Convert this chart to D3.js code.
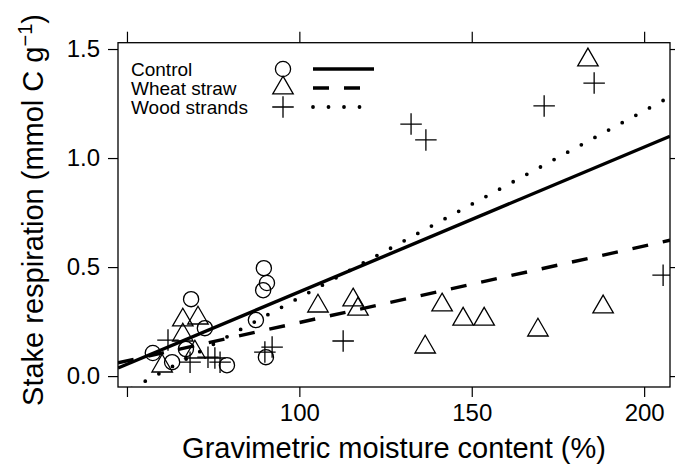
<!DOCTYPE html>
<html>
<head>
<meta charset="utf-8">
<style>
body { margin: 0; background: #fff; }
svg text { font-family: "Liberation Sans", Arial, Helvetica, sans-serif; fill: #000; }
</style>
</head>
<body>
<script src="https://cdn.jsdelivr.net/npm/d3@7"></script>
<script>

// moisture (%) and respiration (mmol C / g)
var controlX = [68.6, 89.7, 90.6, 89.5, 87.4, 72.6, 57.5, 63.1, 67.1, 79.0, 90.3];
var controlY = [0.353, 0.495, 0.427, 0.394, 0.257, 0.220, 0.106, 0.064, 0.124, 0.050, 0.087];

var wheatX = [66.2, 70.6, 66.2, 69.7, 60.2, 105.4, 115.6, 117.0, 141.4, 136.5, 147.5, 153.6, 169.2, 188.1, 183.7];
var wheatY = [0.257, 0.266, 0.188, 0.110, 0.046, 0.321, 0.349, 0.307, 0.326, 0.133, 0.261, 0.261, 0.211, 0.317, 1.450];

var woodX = [132.4, 136.7, 171.0, 185.5, 205.5, 112.7, 61.9, 68.3, 73.5, 75.5, 77.0, 90.0, 92.1];
var woodY = [1.156, 1.083, 1.239, 1.344, 0.463, 0.161, 0.165, 0.064, 0.087, 0.083, 0.064, 0.110, 0.133];

// fitted lines, end points
var fitX = [47.4, 207.5];
var controlFit = [0.037, 1.100];
var wheatFit = [0.061, 0.623];
var woodFit = [-0.091, 1.281];

var groups = ["Control", "Wheat straw", "Wood strands"];
var xTicks = [50, 100, 150, 200];
var xTickLabels = ["", "100", "150", "200"];
var yTicks = [0, 0.5, 1.0, 1.5];

var W = 675, H = 472;
var margin = {top: 42.7, right: 5, bottom: 85, left: 118};

var svg = d3.select("body").append("svg")
    .attr("width", W)
    .attr("height", H);

var x = d3.scaleLinear().domain([47.4, 207.5]).range([margin.left, W - margin.right]);
var y = d3.scaleLinear().domain([-0.05, 1.529]).range([H - margin.bottom, margin.top]);

svg.append("defs").append("clipPath").attr("id", "panel")
  .append("rect")
    .attr("x", x.range()[0]).attr("y", y.range()[1])
    .attr("width", x.range()[1] - x.range()[0])
    .attr("height", y.range()[0] - y.range()[1]);

// axes on all four sides, labels only bottom + left
function styleAxis(g) {
  g.select(".domain").remove();
  g.selectAll(".tick line").attr("stroke", "#000").attr("stroke-width", 1.2);
  g.selectAll(".tick text").attr("font-size", 24).attr("font-family", null);
}

svg.append("g")
    .attr("transform", "translate(0," + y.range()[0] + ")")
    .call(d3.axisBottom(x).tickValues(xTicks).tickSize(10).tickPadding(7)
      .tickFormat((d, i) => xTickLabels[i]))
    .call(styleAxis);

svg.append("g")
    .attr("transform", "translate(0," + y.range()[1] + ")")
    .call(d3.axisTop(x).tickValues(xTicks).tickSize(11).tickFormat(""))
    .call(styleAxis);

svg.append("g")
    .attr("transform", "translate(" + x.range()[0] + ",0)")
    .call(d3.axisLeft(y).tickValues(yTicks).tickSize(10).tickPadding(8).tickFormat(d3.format(".1f")))
    .call(styleAxis);

svg.append("g")
    .attr("transform", "translate(" + x.range()[1] + ",0)")
    .call(d3.axisRight(y).tickValues(yTicks).tickSize(10).tickFormat(""))
    .call(styleAxis);

svg.append("rect")
    .attr("x", x.range()[0]).attr("y", y.range()[1])
    .attr("width", x.range()[1] - x.range()[0])
    .attr("height", y.range()[0] - y.range()[1])
    .attr("fill", "none").attr("stroke", "#000").attr("stroke-width", 1.3);

// symbols, R style pch 1 / 2 / 3
var s = 7.6;
function triPath(cx, cy, k) {
  var r = 1.5551 * k, xc = 1.3468 * k, yc = 0.7776 * k;
  return "M" + cx + "," + (cy - r) + "L" + (cx + xc) + "," + (cy + yc) + "L" + (cx - xc) + "," + (cy + yc) + "Z";
}
function plusPath(cx, cy, k) {
  var h = Math.SQRT2 * k;
  return "M" + (cx - h) + "," + cy + "H" + (cx + h) + "M" + cx + "," + (cy - h) + "V" + (cy + h);
}

var lineStyles = [
  {dash: null, width: 3.4, cap: "butt"},
  {dash: "16,15", width: 3.4, cap: "butt"},
  {dash: "0,15.5", width: 3.8, cap: "round"}
];

var plot = svg.append("g").attr("clip-path", "url(#panel)");

var fits = [controlFit, wheatFit, woodFit];
var line = d3.line().x(d => x(d[0])).y(d => y(d[1]));
fits.forEach(function(f, i) {
  var st = lineStyles[i];
  plot.append("path")
      .datum(fitX.map((v, j) => [v, f[j]]))
      .attr("d", line)
      .attr("fill", "none")
      .attr("stroke", "#000")
      .attr("stroke-width", st.width)
      .attr("stroke-linecap", st.cap)
      .attr("stroke-dasharray", st.dash);
});

var pts = plot.append("g")
    .attr("fill", "none").attr("stroke", "#000").attr("stroke-width", 1.3);

pts.selectAll(".ctl")
  .data(d3.zip(controlX, controlY))
  .join("circle")
    .attr("cx", d => x(d[0])).attr("cy", d => y(d[1])).attr("r", s);

pts.selectAll(".wht")
  .data(d3.zip(wheatX, wheatY))
  .join("path")
    .attr("d", d => triPath(x(d[0]), y(d[1]), s));

pts.selectAll(".wod")
  .data(d3.zip(woodX, woodY))
  .join("path")
    .attr("d", d => plusPath(x(d[0]), y(d[1]), s));

// key
var key = svg.append("g");
var rowY = [69, 88, 107];
groups.forEach(function(g, i) {
  key.append("text")
      .attr("x", 131).attr("y", rowY[i]).attr("dy", "0.35em")
      .attr("font-size", 19)
      .text(g);
  var st = lineStyles[i];
  key.append("line")
      .attr("x1", 313).attr("x2", 374)
      .attr("y1", rowY[i]).attr("y2", rowY[i])
      .attr("stroke", "#000")
      .attr("stroke-width", st.width)
      .attr("stroke-linecap", st.cap)
      .attr("stroke-dasharray", st.dash);
});
var ks = key.append("g").attr("fill", "none").attr("stroke", "#000").attr("stroke-width", 1.3);
ks.append("circle").attr("cx", 283).attr("cy", rowY[0]).attr("r", s);
ks.append("path").attr("d", triPath(283, rowY[1], s));
ks.append("path").attr("d", plusPath(283, rowY[2], s));

// axis titles
svg.append("text")
    .attr("x", (x.range()[0] + x.range()[1]) / 2)
    .attr("y", 458)
    .attr("text-anchor", "middle")
    .attr("font-size", 29)
    .text("Gravimetric moisture content (%)");

var yt = svg.append("text")
    .attr("transform", "translate(43,210) rotate(-90)")
    .attr("text-anchor", "middle")
    .attr("font-size", 29);
yt.append("tspan").text("Stake respiration (mmol C g");
yt.append("tspan").attr("font-size", 20).attr("baseline-shift", "55%").text("\u22121");
yt.append("tspan").text(")");

</script>
</body>
</html>
